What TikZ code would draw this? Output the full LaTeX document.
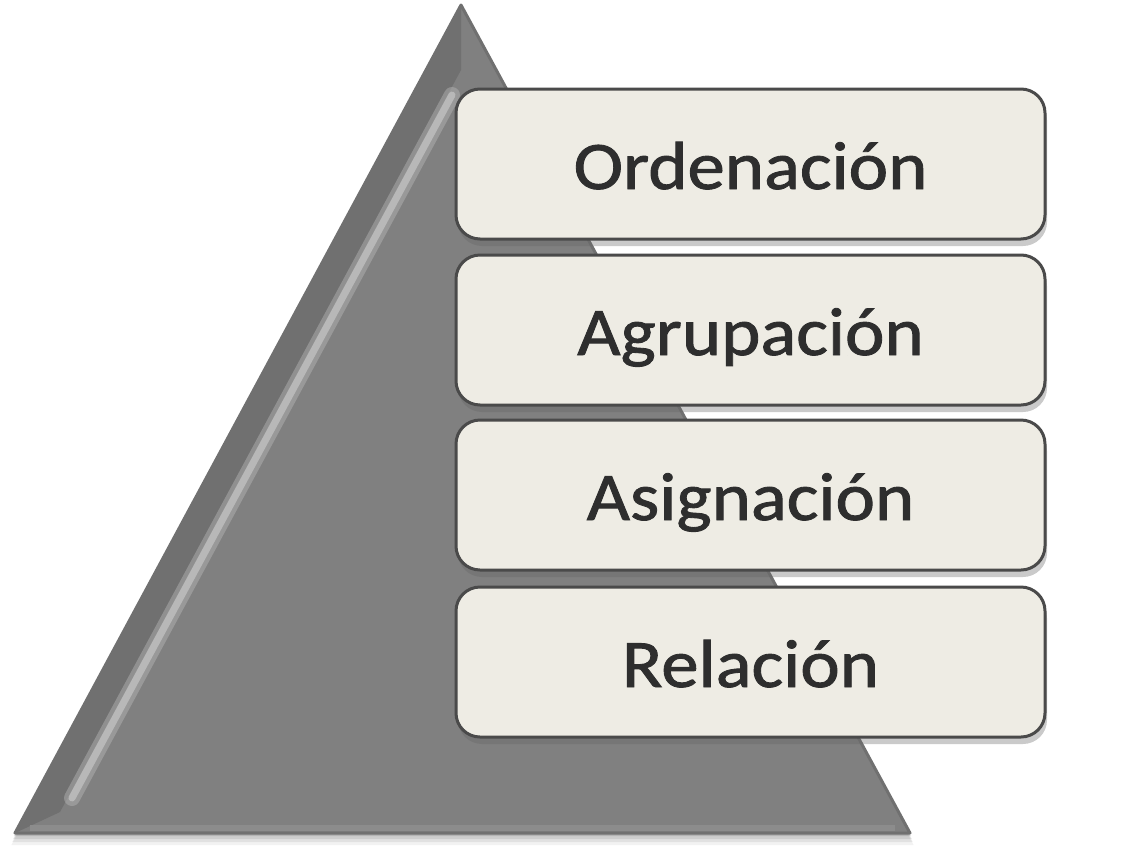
\documentclass[tikz,border=0pt]{standalone}
\usepackage{fontspec}
\setmainfont{Carlito}
\newfontfamily\boxfont[FakeBold=1.3, FakeStretch=1.1]{Carlito}
\usetikzlibrary{shadows}
\definecolor{tri}{HTML}{808080}
\definecolor{triedge}{HTML}{707070}
\definecolor{trilight}{HTML}{B8B8B8}
\definecolor{boxfill}{HTML}{EEECE4}
\definecolor{boxedge}{HTML}{4A4A4A}
\definecolor{txt}{HTML}{2E2E2E}
\tikzset{
  stepbox/.style={draw=boxedge, line width=3pt, fill=boxfill, rounded corners=24pt,
    minimum width=589pt, minimum height=150pt, inner sep=0pt,
    text height=50pt, text depth=0pt,
    font=\boxfont\fontsize{68}{72}\selectfont, text=txt,
    drop shadow={shadow xshift=2pt, shadow yshift=-7pt, opacity=0.35, fill=black!60}},
}
\begin{document}
\begin{tikzpicture}[x=1pt,y=-1pt]
\useasboundingbox (0,0) rectangle (1132,865);
% triangle shadow
\foreach \o/\op in {12/0.05,9/0.07,6/0.09,3/0.12}{
  \fill[black, opacity=\op] (461,{5+\o}) -- ({910+\o*0.3},{833+\o}) -- ({15-\o*0.3},{833+\o}) -- cycle;
}
% triangle
\coordinate (apex) at (461,5);
\coordinate (br) at (910,833);
\coordinate (bl) at (15,833);
\fill[tri] (apex) -- (br) -- (bl) -- cycle;
\draw[triedge, line width=3pt, line join=round] (apex) -- (br) -- (bl) -- cycle;
% bevel band along left edge
\fill[triedge] (apex) -- (bl) -- (60,812) -- (461,70) -- cycle;
\draw[trilight, opacity=0.45, line width=16pt, line cap=round] (72,798) -- (452,95);
\draw[trilight, line width=7pt, line cap=round] (72,798) -- (452,95);
\draw[black!45, line width=6pt] (30,828) -- (895,828);
% boxes
\node[stepbox] (b1) at (750.5,164) {Ordenación};
\node[stepbox] (b2) at (750.5,330) {Agrupación};
\node[stepbox] (b3) at (750.5,495) {Asignación};
\node[stepbox] (b4) at (750.5,662) {Relación};
\end{tikzpicture}
\end{document}
